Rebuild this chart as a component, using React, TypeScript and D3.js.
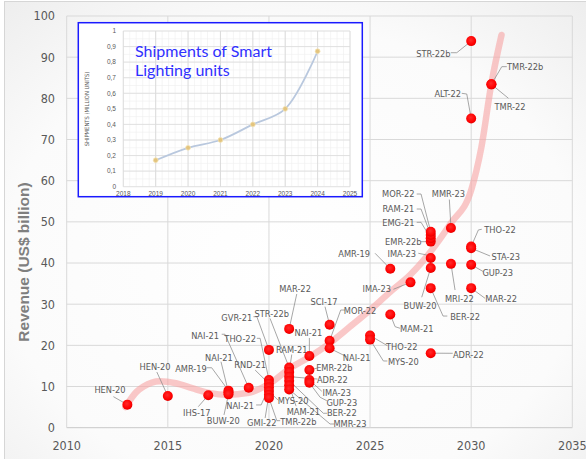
import React from 'react';
import * as d3 from 'd3';

const W = 586;
const H = 459;

// ---------- main chart data ----------
const xTicks = [2010, 2015, 2020, 2025, 2030, 2035];
const yTicks = [0, 10, 20, 30, 40, 50, 60, 70, 80, 90, 100];

const pointNames = [
  'HEN-20', 'HEN-20', 'IHS-17', 'AMR-19', 'NAI-21', 'BUW-20', 'NAI-21',
  'GVR-21', 'THO-22', 'RND-21', 'NAI-21', 'MYS-20', 'GMI-22', 'TMR-22b',
  'MAR-22', 'STR-22b', 'RAM-21', 'ADR-22', 'BER-22', 'MAM-21', 'MMR-23',
  'NAI-21', 'EMR-22b', 'IMA-23', 'GUP-23',
  'SCI-17', 'MOR-22', 'NAI-21',
  'THO-22', 'MYS-20',
  'MAM-21', 'AMR-19',
  'IMA-23',
  'ADR-22', 'BER-22', 'BUW-20', 'IMA-23', 'EMR-22b', 'EMG-21', 'RAM-21', 'MOR-22',
  'MMR-23', 'MRI-22',
  'STR-22b', 'ALT-22', 'THO-22', 'STA-23', 'GUP-23', 'MAR-22',
  'TMR-22b', 'TMR-22',
];
const pointYears = [
  2013, 2015, 2017, 2018, 2018, 2018, 2019,
  2020, 2020, 2020, 2020, 2020, 2020, 2020,
  2021, 2021, 2021, 2021, 2021, 2021, 2021,
  2022, 2022, 2022, 2022,
  2023, 2023, 2023,
  2025, 2025,
  2026, 2026,
  2027,
  2028, 2028, 2028, 2028, 2028, 2028, 2028, 2028,
  2029, 2029,
  2030, 2030, 2030, 2030, 2030, 2030,
  2031, 2031,
];
const pointValues = [
  5.6, 7.7, 7.9, 9.0, 8.6, 8.1, 9.7,
  18.9, 11.6, 10.7, 9.8, 8.9, 8.0, 7.2,
  24.0, 14.6, 13.5, 12.4, 11.4, 10.3, 9.3,
  17.4, 14.0, 11.6, 10.9,
  25.0, 21.1, 19.3,
  22.4, 21.4,
  27.5, 38.6,
  35.3,
  18.1, 33.9, 38.8, 41.2, 45.2, 46.0, 46.8, 47.6,
  48.5, 39.8,
  93.9, 75.1, 44.0, 43.6, 39.6, 33.9,
  83.4, 83.4,
];

const trendYears = [2012.9, 2013.45, 2013.8, 2014.6, 2015.4, 2016.2, 2017.1, 2017.9, 2019, 2020, 2021, 2022, 2023, 2024, 2025, 2026, 2027, 2028, 2029, 2030, 2030.5, 2031, 2031.5];
const trendValues = [5.0, 8.7, 10.0, 11.3, 10.8, 9.6, 8.4, 8.0, 8.5, 10.6, 14.3, 17.2, 20.5, 24.5, 28.6, 33.0, 37.2, 42.8, 49.7, 57.7, 68.0, 83.6, 95.4];

// ---------- inset data ----------
const insetYears = [2019, 2020, 2021, 2022, 2023, 2024];
const insetValues = [0.17, 0.25, 0.30, 0.40, 0.50, 0.87];
const insetXTicks = [2018, 2019, 2020, 2021, 2022, 2023, 2024, 2025];
const insetYTicks = [0, 0.1, 0.2, 0.3, 0.4, 0.5, 0.6, 0.7, 0.8, 0.9, 1];

// ---------- annotation layout (pixel offsets from each point) ----------
const labelOffsets: [number, number][] = [
  [-17.4, -15.3], [-12.8, -29.3], [-11.5, 18.1], [-37.5, -21.6], [-9.5, -35], [-5.2, 26.3], [-43.7, -52.1],
  [-32.1, -32.2], [-28.8, -40.9], [-18.8, -19.3], [-28.8, 18.6], [24.2, 10.2], [-7.1, 28.5], [29.5, 23.6],
  [5.9, -40.6], [-17.4, -54.3], [2.6, -22.8], [43.2, 3.4], [52.6, 32.5], [14.2, 26.9], [60.9, 34.6],
  [-1, -23.4], [25, -1.8], [27.4, 12.9], [32.4, 19.6],
  [-5.6, -23.1], [30.4, -30.1], [27.1, 9.1],
  [31.7, 11.2], [33.3, 22.1],
  [26.5, 13.8], [-36.2, -14.8],
  [-33.7, 6.9],
  [37.6, 1.1], [34.3, 28.6], [-10.7, 37.7], [-29, -3.8], [-27.4, 0.1], [-32.4, -16], [-32.4, -26], [-32.4, -37.7],
  [-2.6, -34.7], [8.4, 34.5],
  [-37.8, 12.2], [-23.4, -24.5], [28.9, -16.6], [34.6, 8.5], [26.6, 8.6], [29.9, 10.9],
  [33.7, -17.7], [18.7, 22.3],
];
const leaderOffsets: [number, number][][] = [
  [[-14, -8]], [[-11, -24]], [[-10, 11.5]], [[-21.8, -22.9], [-16.8, -22.9]], [[-7.5, -30.6]], [[-4.5, 20.6]], [[-27, -53.5], [-23.7, -53.5]],
  [[-15.5, -33.2], [-12.1, -33.2]], [[-12.1, -41.6], [-8.8, -41.6]], [[-13.8, -13.6]], [[-12.8, 17.6], [-7.8, 17.6]], [[9.2, 9.2]], [[-3.8, 23.2]], [[11.2, 22.6], [7.9, 22.6]],
  [[7.6, -34.9]], [[-19.1, -49.1]], [[2.6, -17.6]], [[28.4, 2.4]], [[38, 32.5], [34.2, 32.5]], [[6.9, 20.9]], [[45, 34.6], [40.9, 34.6]],
  [[0, -18.1]], [[8, -2]], [[12.4, 11.3]], [[17.4, 17.9], [10.7, 14.4]],
  [[-4.6, -18.1]], [[15.4, -30.8], [11.1, -30.8]], [[17.1, 8.5]],
  [[17.3, 10.2]], [[17.3, 21.4], [13.3, 21.4]],
  [[9.8, 13.8], [4.8, 12.2]], [[-15.2, -15.5]],
  [[-17.1, 6.9]],
  [[22, 0.1]], [[16.6, 27.9], [12.3, 27.9]], [[-9, 29.3]], [[-12.4, -4.8], [-4, -3.1]], [[-9.7, 0.1]], [[-14, -16], [-9.7, -16]], [[-14, -26], [-9.7, -26]], [[-14, -37.7], [-9.7, -37.7]],
  [[-1.6, -28.5]], [[4.1, 26.2]],
  [[-20.4, 11.6], [-14.4, 11.6]], [[-9.4, -25.2], [-4.4, -24.5]], [[10.6, -17.3], [7.2, -16.6]], [[18.9, 7.8]], [[12.2, 7]], [[13.9, 10.2]],
  [[15.4, -17.7], [10.4, -17.7]], [[17, 13.9]],
];

const NARROW = "'Liberation Sans Narrow', 'DejaVu Sans Condensed', sans-serif";
const GREY = '#595959';

export default function App() {
  const x = d3.scaleLinear().domain([2010, 2035]).range([66.7, 572.3]);
  const y = d3.scaleLinear().domain([0, 100]).range([427.7, 16]);

  const trend = d3
    .line<number>()
    .x((_, i) => x(trendYears[i]))
    .y((d) => y(d))
    .curve(d3.curveMonotoneX)(trendValues) as string;

  const ix = d3.scaleLinear().domain([2018, 2025]).range([123.3, 350]);
  const iy = d3.scaleLinear().domain([0, 1]).range([186.7, 31]);
  const insetLine = d3
    .line<number>()
    .x((_, i) => ix(insetYears[i]))
    .y((d) => iy(d))
    .curve(d3.curveCatmullRom.alpha(0.5))(insetValues) as string;

  const minorX = d3.range(2018, 2025.001, 0.2);
  const minorY = d3.range(0, 1.0001, 0.05);

  const fmtComma = (v: number) => (v === 0 ? '0' : v === 1 ? '1' : d3.format('.1f')(v).replace('.', ','));

  return (
    <div style={{ position: 'absolute', left: 0, top: 0 }}>
      <svg width={W} height={H} style={{ display: 'block' }}>
        <defs>
          <radialGradient id="bg" cx="45%" cy="50%" r="75%">
            <stop offset="0%" stopColor="#ffffff" />
            <stop offset="60%" stopColor="#fbfbfb" />
            <stop offset="100%" stopColor="#e9e9e9" />
          </radialGradient>
          <radialGradient id="dot" cx="45%" cy="40%" r="60%">
            <stop offset="0%" stopColor="#ff2a2a" />
            <stop offset="75%" stopColor="#ff0000" />
            <stop offset="100%" stopColor="#e00000" />
          </radialGradient>
        </defs>
        <rect x={0} y={0} width={W} height={H} fill="#ffffff" />
        <rect x={4.5} y={1.5} width={640} height={520} fill="url(#bg)" stroke="#d6d6d6" strokeWidth={1} />

        {/* gridlines */}
        {yTicks.map((t) => (
          <line key={'gy' + t} x1={x(2010)} x2={x(2035)} y1={y(t)} y2={y(t)} stroke={t === 0 ? '#c8c8c8' : '#d9d9d9'} strokeWidth={1} />
        ))}
        {xTicks.map((t) => (
          <line key={'gx' + t} x1={x(t)} x2={x(t)} y1={y(0)} y2={y(100)} stroke="#d9d9d9" strokeWidth={1} />
        ))}

        {/* tick labels */}
        {yTicks.map((t) => (
          <text key={'ty' + t} x={55} y={y(t)} dy="0.35em" textAnchor="end" fontFamily={NARROW} fontSize={12.5} fill={GREY}>
            {t}
          </text>
        ))}
        {xTicks.map((t) => (
          <text key={'tx' + t} x={x(t)} y={450} textAnchor="middle" fontFamily={NARROW} fontSize={12.5} fill={GREY}>
            {t}
          </text>
        ))}

        <text
          transform={`translate(29,262) rotate(-90)`}
          textAnchor="middle"
          fontFamily="'Liberation Sans', Arial, sans-serif"
          fontWeight="bold"
          fontSize={15.5}
          fill="#7f7f7f"
        >
          Revenue (US$ billion)
        </text>

        {/* trend curve */}
        <path d={trend} fill="none" stroke="#f7a3a3" strokeOpacity={0.6} strokeWidth={6.5} strokeLinecap="round" />

        {/* leaders */}
        {pointValues.map((v, i) => {
          const px = x(pointYears[i]);
          const py = y(v);
          const pts = leaderOffsets[i].map(([dx, dy]) => [px + dx, py + dy]);
          pts.push([px, py]);
          return (
            <polyline
              key={'ld' + i}
              points={pts.map((p) => p.join(',')).join(' ')}
              fill="none"
              stroke="#8a8a8a"
              strokeWidth={0.75}
            />
          );
        })}

        {/* labels */}
        {pointValues.map((v, i) => (
          <text
            key={'lb' + i}
            x={x(pointYears[i]) + labelOffsets[i][0]}
            y={y(v) + labelOffsets[i][1]}
            dy="0.35em"
            textAnchor="middle"
            fontFamily={NARROW}
            fontSize={9.2}
            fill={GREY}
          >
            {pointNames[i]}
          </text>
        ))}

        {/* points */}
        {pointValues.map((v, i) => (
          <circle key={'pt' + i} cx={x(pointYears[i])} cy={y(v)} r={5} fill="url(#dot)" />
        ))}

        {/* inset */}
        <g>
          <rect x={78.3} y={22.7} width={284} height={174} fill="#ffffff" stroke="#1a1aff" strokeWidth={1.5} />
          {minorX.map((t, k) => (
            <line key={'imx' + k} x1={ix(t)} x2={ix(t)} y1={iy(0)} y2={iy(1)} stroke="#efefef" strokeWidth={0.6} />
          ))}
          {minorY.map((t, k) => (
            <line key={'imy' + k} x1={ix(2018)} x2={ix(2025)} y1={iy(t)} y2={iy(t)} stroke="#efefef" strokeWidth={0.6} />
          ))}
          {insetXTicks.map((t) => (
            <line key={'igx' + t} x1={ix(t)} x2={ix(t)} y1={iy(0)} y2={iy(1)} stroke="#d6d6d6" strokeWidth={0.8} />
          ))}
          {insetYTicks.map((t) => (
            <line key={'igy' + t} x1={ix(2018)} x2={ix(2025)} y1={iy(t)} y2={iy(t)} stroke="#dcdcdc" strokeWidth={0.8} />
          ))}
          {insetYTicks.map((t) => (
            <text key={'ity' + t} x={116} y={iy(t)} dy="0.35em" textAnchor="end" fontFamily="'Liberation Sans', Arial, sans-serif" fontSize={6.5} fill={GREY}>
              {fmtComma(t)}
            </text>
          ))}
          {insetXTicks.map((t) => (
            <text key={'itx' + t} x={ix(t)} y={193.5} dy="0.35em" textAnchor="middle" fontFamily="'Liberation Sans', Arial, sans-serif" fontSize={6.5} fill={GREY}>
              {t}
            </text>
          ))}
          <text
            transform="translate(87,109) rotate(-90)"
            dy="0.35em"
            textAnchor="middle"
            fontFamily={NARROW}
            fontSize={5.8}
            fill={GREY}
          >
            SHIPMENTS (MILLION UNITS)
          </text>
          <path d={insetLine} fill="none" stroke="#b9c8de" strokeWidth={1.8} />
          {insetValues.map((v, i) => (
            <circle key={'ip' + i} cx={ix(insetYears[i])} cy={iy(v)} r={2.4} fill="#e3c47e" stroke="#f2e2b4" strokeWidth={0.8} />
          ))}
          <text fontFamily="Lato, 'Open Sans', sans-serif" fontSize={16} fill="#3030ff">
            <tspan x={135} y={57}>Shipments of Smart</tspan>
            <tspan x={135} y={75.5}>Lighting units</tspan>
          </text>
        </g>
      </svg>
    </div>
  );
}
